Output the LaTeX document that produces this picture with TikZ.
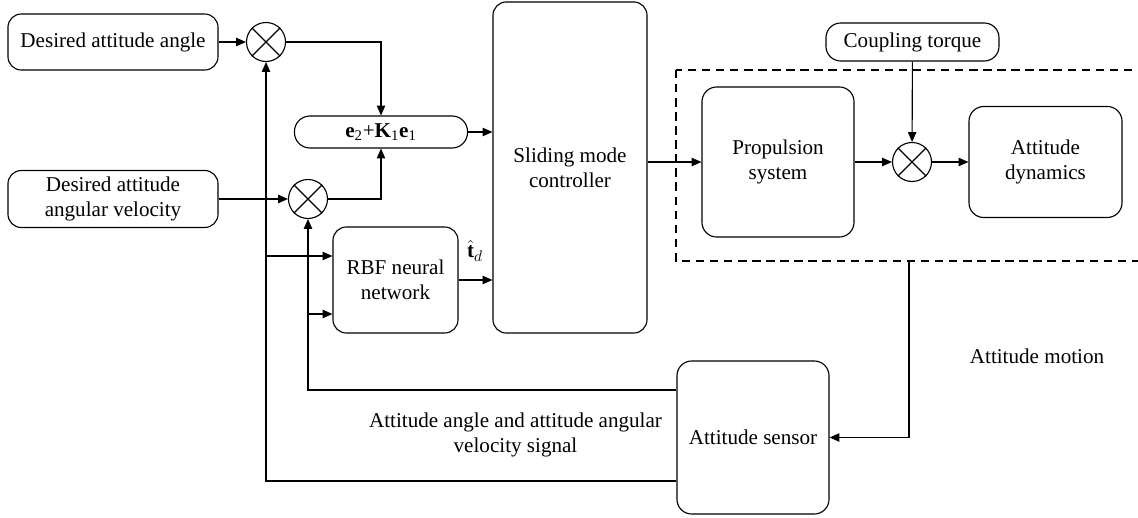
\documentclass[tikz,border=0pt]{standalone}
\usepackage{amsmath}
\usepackage{fontspec}
\setmainfont{Liberation Serif}
\usetikzlibrary{arrows.meta}
\usetikzlibrary{positioning,calc}

\tikzset{
    block/.style={draw,rounded corners=9.5pt,align=center,inner sep=2pt},
    sumnode/.style={draw,circle,minimum size=0.975cm,inner sep=0pt},
    lbl/.style={align=center,inner sep=1pt},
}

\begin{document}
\begin{tikzpicture}[x=0.025cm,y=-0.025cm,line width=0.8pt,>={Triangle[length=7pt,width=6pt]},font=\fontsize{15}{18}\selectfont]
    \useasboundingbox (0,0) rectangle (1138,518);

    % reference inputs and error
    \node[block,minimum width=5.25cm,minimum height=1.4cm] (ang) at (113,42) {Desired attitude angle};
    \node[block,minimum width=5.25cm,minimum height=1.425cm] (vel) at (113,199) {Desired attitude\\angular velocity};
    \node[sumnode] (s1) at (266,42) {};
    \node[sumnode] (s2) at (308,199) {};
    \node[block,rounded corners=11pt,minimum width=4.325cm,minimum height=0.8cm] (err) at (381,132) {\textbf{e}\textsubscript{2}+\textbf{K}\textsubscript{1}\textbf{e}\textsubscript{1}};

    % controller and estimator
    \node[block,minimum width=3.85cm,minimum height=8.275cm] (smc) at (570,167.5) {Sliding mode\\controller};
    \node[block,minimum width=3.125cm,minimum height=2.65cm] (rbf) at (395.5,280) {RBF neural\\network};
    \node[lbl,inner sep=0pt] (td) at (475,251) {$\hat{\mathbf{t}}_{d}$};

    % plant
    \draw[dashed,dash pattern=on 6pt off 4pt] (676,70) rectangle (1142,261);
    \coordinate (tap) at (909,261);
    \node[block,rounded corners=10.5pt,minimum width=3.8cm,minimum height=3.75cm] (prop) at (778,162) {Propulsion\\system};
    \node[sumnode] (s3) at (912,162) {};
    \node[block,rounded corners=10.5pt,minimum width=3.825cm,minimum height=2.775cm] (dyn) at (1045.5,162) {Attitude\\dynamics};
    \node[block,rounded corners=10.5pt,minimum width=4.325cm,minimum height=0.95cm] (cpl) at (912.5,42) {Coupling torque};

    % measurement
    \node[block,rounded corners=10.5pt,minimum width=3.8cm,minimum height=3.825cm] (sens) at (753,437.5) {Attitude sensor};
    \node[lbl] (motion) at (1037,356) {Attitude motion};
    \node[lbl] (signal) at (515.5,435) {Attitude angle and attitude angular\\velocity signal};

    \foreach \s in {s1,s2,s3}
        \draw (\s.north west) -- (\s.south east) (\s.north east) -- (\s.south west);

    \draw[->] (ang) -- (s1);
    \draw[->] (vel) -- (s2);
    \draw[->] (s1) -| (err);
    \draw[->] (s2) -| (err);
    \draw[->] (err) -- (err -| smc.west);
    \draw[->] (rbf) -- (rbf -| smc.west);
    \draw[->] (prop -| smc.east) -- (prop);
    \draw[->] (prop) -- (s3);
    \draw[->] (s3) -- (dyn);
    \draw[->] (cpl) -- (s3);
    \draw[->] (tap) |- (sens);

    % feedback paths
    \coordinate (brA) at (266,256);
    \coordinate (brB) at (308,314);
    \draw[->] ($(sens.west)+(0,43.5)$) -| (s1);
    \draw[->] ($(sens.west)+(0,-47.5)$) -| (s2);
    \draw[->] (brA) -- (brA -| rbf.west);
    \draw[->] (brB) -- (brB -| rbf.west);
\end{tikzpicture}
\end{document}
